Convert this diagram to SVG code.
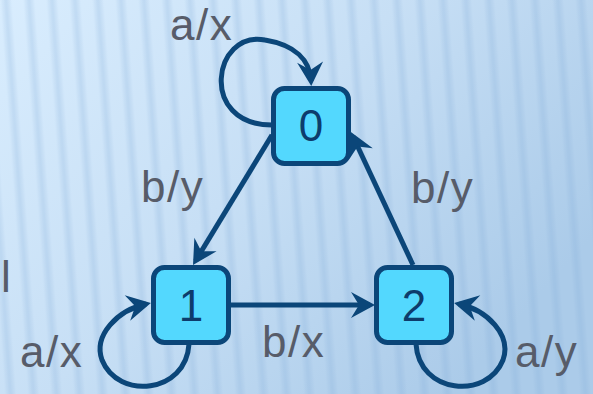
<svg xmlns="http://www.w3.org/2000/svg" width="593" height="394" viewBox="0 0 593 394">
  <defs>
    <linearGradient id="bg" x1="0" y1="0" x2="1" y2="0.6">
      <stop offset="0" stop-color="#d9edfe"/>
      <stop offset="0.5" stop-color="#c7dff5"/>
      <stop offset="1" stop-color="#abcbe9"/>
    </linearGradient>
    <linearGradient id="stripeG" x1="0" y1="0" x2="1" y2="0">
      <stop offset="0" stop-color="#7fa9d6" stop-opacity="0"/>
      <stop offset="0.5" stop-color="#7fa9d6" stop-opacity="0.25"/>
      <stop offset="1" stop-color="#7fa9d6" stop-opacity="0"/>
    </linearGradient>
    <pattern id="stripes" width="23" height="394" patternUnits="userSpaceOnUse" patternTransform="skewX(4)">
      <rect x="0" y="0" width="12" height="394" fill="url(#stripeG)"/>
    </pattern>
    <marker id="arr" viewBox="-25 -15 27 30" refX="-5" refY="0" markerWidth="27" markerHeight="30" markerUnits="userSpaceOnUse" orient="auto">
      <path d="M0,0 L-24,-13 L-16,0 L-24,13 Z" fill="#0b4679"/>
    </marker>
    <style>
      .node rect { fill: #53d8fe; stroke: #0b4679; stroke-width: 5; }
      .node text { font-family: "Liberation Sans", Arial, sans-serif; font-size: 44px; fill: #0d3c6c; text-anchor: middle; }
      .edge { fill: none; stroke: #0b4679; stroke-width: 5; marker-end: url(#arr); }
      .lbl { font-family: "Liberation Sans", Arial, sans-serif; font-size: 44px; letter-spacing: 1.5px; fill: #575c69; }
    </style>
  </defs>

  <rect x="0" y="0" width="593" height="394" fill="url(#bg)"/>
  <rect x="0" y="0" width="593" height="394" fill="url(#stripes)"/>

  <text class="lbl" x="1" y="292">l</text>

  <g id="connectors">
    <path class="edge" d="M272,125 C198,125 213,30 265,40 C295,45 310,60 311,81"/>
    <path class="edge" d="M272,135 L195.6,260.7"/>
    <path class="edge" d="M413,265 L353,136.5"/>
    <path class="edge" d="M231,305 L370,305"/>
    <path class="edge" d="M189,344 C186,394 118,400 102,360 C93,335 118,310 146,304"/>
    <path class="edge" d="M416,344 C419,394 487,400 503,360 C512,335 487,310 459,304"/>
    <text class="lbl" x="170" y="40">a/x</text>
    <text class="lbl" x="141" y="202">b/y</text>
    <text class="lbl" x="411" y="203">b/y</text>
    <text class="lbl" x="262" y="357">b/x</text>
    <text class="lbl" x="20" y="367">a/x</text>
    <text class="lbl" x="515" y="367">a/y</text>
  </g>

  <g id="node0" class="node">
    <rect x="273.5" y="88.5" width="75" height="75" rx="11"/>
    <text x="311" y="141">0</text>
  </g>
  <g id="node1" class="node">
    <rect x="153.5" y="267.5" width="75" height="75" rx="11"/>
    <text x="191" y="321">1</text>
  </g>
  <g id="node2" class="node">
    <rect x="376.5" y="267.5" width="75" height="75" rx="11"/>
    <text x="414" y="321">2</text>
  </g>
</svg>
